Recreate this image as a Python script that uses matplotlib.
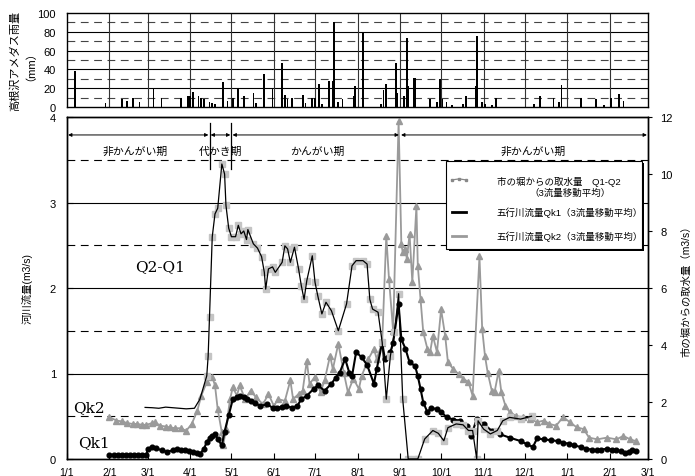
import matplotlib
matplotlib.use("Agg")
import matplotlib.pyplot as plt
from matplotlib.lines import Line2D
from matplotlib.patches import Rectangle

plt.rcParams['font.family'] = ['Liberation Sans', 'Noto Sans CJK JP']

# ---- calendar (days counted from 1/1, non-leap year, running into next Feb) ----
month_start = [0, 31, 59, 90, 120, 151, 181, 212, 243, 273, 304, 334, 365, 396, 424]
month_label = ['1/1', '2/1', '3/1', '4/1', '5/1', '6/1', '7/1', '8/1', '9/1',
               '10/1', '11/1', '12/1', '1/1', '2/1', '3/1']

# ---- daily rainfall at Takanezawa AMeDAS (mm) ----
rain_day = [6, 28, 40, 44, 48, 53, 63, 69, 83, 88, 89, 90, 92, 96, 98, 100, 104, 106, 108,
            114, 117, 121, 125, 129, 136, 138, 144, 150, 157, 159, 161, 164, 172, 174, 179,
            181, 184, 186, 191, 194, 195, 198, 201, 209, 210, 216, 229, 231, 233, 240, 241,
            246, 248, 249, 253, 254, 265, 270, 272, 274, 277, 281, 289, 291, 298, 299, 303,
            305, 310, 313, 341, 345, 355, 359, 361, 375, 386, 392, 397, 403, 406]
rain_mm = [38, 4, 8, 6, 10, 5, 20, 10, 10, 12, 12, 12, 16, 12, 10, 8, 5, 4, 3,
           27, 6, 10, 20, 12, 15, 4, 35, 20, 47, 13, 8, 10, 13, 4, 10,
           10, 25, 3, 28, 28, 90, 5, 8, 12, 22, 80, 3, 18, 24, 47, 15,
           12, 73, 22, 31, 31, 9, 5, 30, 8, 5, 2, 3, 12, 22, 76, 5,
           3, 2, 10, 3, 12, 10, 5, 23, 10, 8, 2, 10, 14, 6]

# ---- intake from the city canal Q2-Q1 (m3/s, right axis) ----
q21_day = [57, 62, 67, 72, 77, 82, 87, 93, 97, 102, 103, 104, 106, 108, 110, 113, 115, 116,
           118, 120, 123, 125, 127, 129, 131, 132, 136, 139, 142, 144, 145, 147, 150, 152,
           157, 159, 161, 163, 166, 169, 171, 173, 175, 179, 181, 183, 186, 189, 193, 198,
           204, 208, 211, 216, 219, 221, 223, 227, 230, 233, 236, 239, 242, 245, 249, 253,
           256, 261, 267, 271, 275, 278, 284, 289, 293, 296, 299, 300, 304, 309, 314, 318,
           323, 331, 339]
q21_val = [1.81, 1.80, 1.78, 1.82, 1.80, 1.78, 1.76, 1.78, 2.1, 2.92, 3.6, 5.0, 7.8, 8.6,
           8.8, 10.35, 10.0, 8.9, 8.1, 7.8, 7.8, 8.2, 7.9, 8.0, 7.7, 8.05, 7.55, 7.4, 7.1,
           6.55, 5.96, 6.67, 6.74, 6.55, 6.9, 7.48, 7.37, 6.9, 7.43, 6.67, 6.08, 5.6, 6.26,
           7.13, 6.2, 5.73, 5.09, 5.5, 5.2, 4.5, 5.44, 6.78, 6.96, 6.96, 6.84, 5.6, 5.26,
           5.15, 4.1, 2.1, 3.62, 4.45, 5.8, 2.1, 0.0, 0.0, 0.0, 0.7, 1.0, 0.9, 0.64, 1.1,
           1.23, 1.2, 1.0, 1.0, 0.0, 1.34, 1.05, 0.88, 1.0, 1.34, 1.46, 1.4, 1.5]

# ---- Gogyo river flow Qk1 (m3/s, left axis) ----
qk1_day = [31, 34, 37, 40, 43, 46, 49, 52, 55, 58, 59, 62, 65, 69, 73, 77, 80, 83, 86, 89,
           92, 95, 97, 100, 102, 104, 106, 108, 110, 113, 115, 118, 121, 124, 126, 129, 131,
           134, 137, 141, 146, 150, 153, 157, 160, 164, 168, 171, 175, 180, 183, 188, 193,
           196, 199, 203, 206, 208, 211, 215, 219, 224, 226, 230, 232, 236, 238, 242, 244,
           247, 250, 254, 256, 258, 260, 263, 266, 270, 273, 277, 282, 287, 292, 295, 299,
           304, 310, 316, 323, 331, 336, 340, 343, 348, 353, 358, 362, 366, 370, 375, 379,
           383, 387, 390, 394, 398, 401, 404, 407, 410, 412, 415]
qk1_val = [0.05, 0.05, 0.05, 0.05, 0.05, 0.05, 0.05, 0.05, 0.05, 0.05, 0.12, 0.14, 0.13,
           0.10, 0.085, 0.10, 0.12, 0.11, 0.10, 0.09, 0.08, 0.07, 0.06, 0.12, 0.2, 0.24,
           0.27, 0.29, 0.23, 0.16, 0.32, 0.51, 0.7, 0.72, 0.74, 0.72, 0.7, 0.68, 0.66, 0.62,
           0.64, 0.6, 0.6, 0.61, 0.62, 0.6, 0.62, 0.7, 0.74, 0.82, 0.86, 0.8, 0.88, 0.95,
           1.01, 1.17, 1.01, 0.97, 1.25, 1.19, 1.1, 0.88, 1.05, 1.36, 1.17, 1.25, 1.36, 1.81,
           1.4, 1.29, 1.13, 1.09, 0.97, 0.82, 0.66, 0.55, 0.6, 0.58, 0.55, 0.49, 0.46, 0.45,
           0.39, 0.27, 0.47, 0.41, 0.33, 0.29, 0.25, 0.21, 0.17, 0.14, 0.24, 0.23, 0.22,
           0.21, 0.19, 0.18, 0.16, 0.14, 0.12, 0.11, 0.1, 0.11, 0.12, 0.11, 0.1, 0.09, 0.07,
           0.08, 0.1, 0.09]

# ---- Gogyo river flow Qk2 (m3/s, left axis) ----
qk2_day = [31, 36, 40, 44, 48, 51, 55, 58, 62, 64, 68, 72, 75, 79, 83, 87, 91, 95, 98, 102,
           106, 108, 110, 113, 114, 116, 119, 121, 124, 126, 130, 134, 138, 143, 147, 151,
           154, 159, 163, 165, 169, 172, 175, 177, 181, 185, 188, 192, 194, 198, 202, 205,
           209, 213, 215, 220, 224, 226, 230, 233, 235, 238, 242, 244, 245, 247, 248, 250,
           252, 255, 256, 258, 260, 263, 265, 267, 270, 273, 276, 278, 282, 286, 289, 293,
           296, 301, 303, 305, 307, 310, 312, 315, 317, 320, 323, 328, 333, 338, 343, 348,
           352, 357, 362, 367, 372, 377, 381, 387, 394, 401, 406, 411, 415]
qk2_val = [0.49, 0.45, 0.44, 0.42, 0.41, 0.41, 0.40, 0.40, 0.42, 0.43, 0.39, 0.38, 0.37,
           0.36, 0.36, 0.33, 0.41, 0.56, 0.74, 0.9, 0.96, 0.86, 0.58, 0.31, 0.16, 0.35, 0.7,
           0.84, 0.74, 0.86, 0.7, 0.8, 0.72, 0.64, 0.76, 0.62, 0.7, 0.68, 0.92, 0.7, 0.76,
           0.8, 1.15, 0.88, 0.96, 0.78, 0.92, 1.21, 1.05, 1.35, 1.01, 0.78, 0.94, 0.82, 0.97,
           1.17, 1.29, 1.17, 1.36, 2.61, 2.1, 1.5, 3.95, 2.51, 2.42, 2.46, 2.34, 2.63, 2.07,
           2.96, 2.26, 1.87, 1.48, 1.29, 1.25, 1.44, 1.25, 1.75, 1.44, 1.13, 1.05, 0.99, 0.94,
           0.9, 0.74, 2.37, 1.52, 1.21, 1.01, 0.8, 0.78, 1.03, 0.78, 0.62, 0.55, 0.5, 0.49,
           0.47, 0.43, 0.45, 0.41, 0.39, 0.49, 0.43, 0.37, 0.35, 0.25, 0.23, 0.25, 0.23,
           0.27, 0.23, 0.21]

# ---- irrigation periods (start day, end day, label) ----
period_start = [0, 104, 120, 243]
period_end = [104, 120, 243, 424]
period_label = ['非かんがい期', '代かき期', 'かんがい期', '非かんがい期']
period_label_x = [50, 112, 183, 340]

W, H = 695, 477
fig = plt.figure(figsize=(W / 100, H / 100), dpi=100)

# ================= rainfall panel =================
axr = fig.add_axes([67 / W, 1 - 108 / H, 581 / W, 94 / H])
axr.set_xlim(0, 424)
axr.set_ylim(0, 100)
for v in [20, 40, 60, 80]:
    axr.axhline(v, color='black', lw=0.8, zorder=1)
for v in [10, 30, 50, 70, 90]:
    axr.axhline(v, color='#444444', lw=0.8, dashes=(7, 5), zorder=1)
for d in month_start[1:-1]:
    axr.axvline(d, color='#333333', lw=0.8, zorder=1)
axr.bar(rain_day, rain_mm, width=1.2, color='black', zorder=3)
axr.set_xticks([])
axr.set_yticks(range(0, 101, 20))
axr.tick_params(axis='y', length=0, labelsize=8, pad=8)
for s in axr.spines.values():
    s.set_linewidth(1.0)
axr.set_ylabel('高根沢アメダス雨量\n（mm）', fontsize=8, labelpad=5, linespacing=1.0)

# ================= flow panel =================
ax = fig.add_axes([67 / W, 1 - 460 / H, 581 / W, 342 / H])
ax2 = ax.twinx()
ax.set_xlim(0, 424)
ax.set_ylim(0, 4)
ax2.set_ylim(0, 12)

for v in [1, 2, 3]:
    ax.axhline(v, color='black', lw=0.8, zorder=1)
for v in [0.5, 1.5, 2.5, 3.5]:
    ax.axhline(v, color='black', lw=0.8, dashes=(7, 5), zorder=1)

# Qk2: grey line with triangles
ax.plot(qk2_day, qk2_val, color='#9a9a9a', lw=1.3, marker='^', ms=3.8,
        mec='#9a9a9a', mfc='#9a9a9a', zorder=3)
# Qk1: black line with dots
ax.plot(qk1_day, qk1_val, color='black', lw=1.5, marker='o', ms=3.4, zorder=4)
# Q2-Q1 on the right axis: pale squares with thin black line
sq_idx = [i for i, d in enumerate(q21_day) if d >= 100]
ax2.plot(q21_day, q21_val, ls='none', marker='s', ms=3.8, mfc='#c4c4c4', mec='#c4c4c4',
         markevery=sq_idx, zorder=2)
ax2.plot(q21_day, q21_val, color='black', lw=0.9, zorder=5)

ax.set_xticks(month_start)
ax.set_xticklabels(month_label)
ax.tick_params(axis='x', direction='in', length=4, labelsize=7.5, pad=6)
ax.set_yticks([0, 1, 2, 3, 4])
ax.tick_params(axis='y', direction='in', length=4, labelsize=8, pad=8)
ax2.set_yticks(range(0, 13, 2))
ax2.tick_params(axis='y', direction='out', length=3, labelsize=8, pad=6)
for s in list(ax.spines.values()) + list(ax2.spines.values()):
    s.set_linewidth(1.0)

ax.set_ylabel('河川流量(m3/s)', fontsize=7.5, labelpad=12)
ax2.set_ylabel('市の堀からの取水量（m3/s）', fontsize=7.5, labelpad=6)

# series names
ax.text(68, 2.26, 'Q2-Q1', family='DejaVu Serif', fontsize=11, ha='center', va='center')
ax.text(16, 0.61, 'Qk2', family='DejaVu Serif', fontsize=11, ha='center', va='center')
ax.text(20, 0.2, 'Qk1', family='DejaVu Serif', fontsize=11, ha='center', va='center')

# irrigation periods
arrow_y = 3.79
for a, b in zip(period_start, period_end):
    ax.annotate('', xy=(a + 0.8, arrow_y), xytext=(b - 0.8, arrow_y),
                arrowprops=dict(arrowstyle='<|-|>', lw=0.7, color='black',
                                mutation_scale=5, shrinkA=0, shrinkB=0))
for d in period_start[1:3]:
    ax.plot([d, d], [3.39, 3.93], color='black', lw=0.9, zorder=6)
for lx, lab in zip(period_label_x, period_label):
    ax.text(lx, 3.6, lab, fontsize=7.8, ha='center', va='center', zorder=7)

# legend box
lx0, lx1, ly0, ly1 = 0.653, 0.989, 0.614, 0.872
ax.add_patch(Rectangle((lx0 + 0.004, ly0 - 0.006), lx1 - lx0, ly1 - ly0,
                       transform=ax.transAxes, facecolor='black', edgecolor='none',
                       zorder=8))
ax.add_patch(Rectangle((lx0, ly0), lx1 - lx0, ly1 - ly0, transform=ax.transAxes,
                       facecolor='white', edgecolor='black', lw=0.8, zorder=9))
ax.add_line(Line2D([0.662, 0.675, 0.687], [0.816, 0.819, 0.816], transform=ax.transAxes,
                   color='#888888', lw=0.9, marker='s', ms=1.6, zorder=10))
ax.add_line(Line2D([0.662, 0.687], [0.722, 0.722], transform=ax.transAxes,
                   color='black', lw=2.0, zorder=10))
ax.add_line(Line2D([0.662, 0.687], [0.653, 0.653], transform=ax.transAxes,
                   color='#9a9a9a', lw=2.0, zorder=10))
ax.text(0.7396, 0.813, '市の堀からの取水量　Q1-Q2', transform=ax.transAxes, fontsize=6.8,
        va='center', ha='left', zorder=11)
ax.text(0.866, 0.781, '（3流量移動平均）', transform=ax.transAxes, fontsize=6.8,
        va='center', ha='center', zorder=11)
ax.text(0.7396, 0.722, '五行川流量Qk1（3流量移動平均）', transform=ax.transAxes,
        fontsize=6.8, va='center', ha='left', zorder=11)
ax.text(0.7396, 0.653, '五行川流量Qk2（3流量移動平均）', transform=ax.transAxes,
        fontsize=6.8, va='center', ha='left', zorder=11)

fig.savefig('out.png', dpi=100)
